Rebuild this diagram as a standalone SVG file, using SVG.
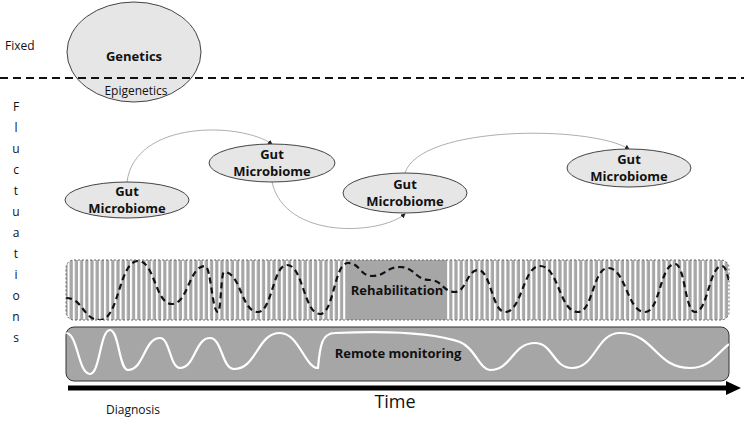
<svg xmlns="http://www.w3.org/2000/svg" width="744" height="424" viewBox="0 0 744 424">
<style>
text{font-family:"Open Sans","Liberation Sans",sans-serif;fill:#111}
.node{fill:#e6e6e6;stroke:#444;stroke-width:1}
.b{font-weight:bold;font-size:13px}
.conn{fill:none;stroke:#999;stroke-width:0.8}
.l{font-size:12px}
</style>
<defs>
<pattern id="st" width="5.2" height="10" patternUnits="userSpaceOnUse"><rect width="5.2" height="10" fill="#a6a6a6"/><rect x="0" width="2" height="10" fill="#fff"/></pattern>
<clipPath id="c1"><rect x="66" y="260" width="663" height="60" rx="8"/></clipPath>
<clipPath id="c2"><rect x="66" y="327" width="663" height="54" rx="8"/></clipPath>
<marker id="a" markerWidth="6" markerHeight="6" refX="5" refY="3" orient="auto"><path d="M0,0L6,3L0,6z" fill="#222"/></marker>
</defs>
<rect width="744" height="424" fill="#fff"/>
<text x="5" y="50" class="l">Fixed</text>
<g id="genetics"><ellipse cx="134" cy="52" rx="67" ry="50" class="node"/>
<text x="134" y="61" text-anchor="middle" class="b" font-size="14">Genetics</text>
<text x="136" y="95" text-anchor="middle" class="l">Epigenetics</text></g>
<line x1="0" y1="78" x2="744" y2="78" stroke="#111" stroke-width="2" stroke-dasharray="8,5"/>
<g class="l" text-anchor="middle">
<text x="16" y="111">F</text><text x="16" y="132">l</text><text x="16" y="153">u</text><text x="16" y="174">c</text><text x="16" y="195">t</text><text x="16" y="216">u</text><text x="16" y="237">a</text><text x="16" y="258">t</text><text x="16" y="279">i</text><text x="16" y="300">o</text><text x="16" y="321">n</text><text x="16" y="342">s</text>
</g>
<g id="connectors">
<path class="conn" d="M127,182C135,120 240,122 272,144" marker-end="url(#a)"/>
<path class="conn" d="M272,182C285,240 380,235 405,214" marker-end="url(#a)"/>
<path class="conn" d="M405,173C420,125 590,125 629,149" marker-end="url(#a)"/>
</g>
<g id="gm1"><ellipse cx="127" cy="200" rx="62" ry="18" class="node"/><text x="127" y="196" text-anchor="middle" class="b">Gut</text><text x="127" y="213" text-anchor="middle" class="b">Microbiome</text></g>
<g id="gm2"><ellipse cx="272" cy="163" rx="63" ry="19" class="node"/><text x="272" y="159" text-anchor="middle" class="b">Gut</text><text x="272" y="176" text-anchor="middle" class="b">Microbiome</text></g>
<g id="gm3"><ellipse cx="405" cy="193" rx="62" ry="20" class="node"/><text x="405" y="189" text-anchor="middle" class="b">Gut</text><text x="405" y="206" text-anchor="middle" class="b">Microbiome</text></g>
<g id="gm4"><ellipse cx="629" cy="168" rx="62" ry="19" class="node"/><text x="629" y="164" text-anchor="middle" class="b">Gut</text><text x="629" y="181" text-anchor="middle" class="b">Microbiome</text></g>
<g id="rehab">
<g clip-path="url(#c1)">
<rect x="66" y="260" width="663" height="60" fill="url(#st)"/>
<rect x="348" y="260" width="98" height="60" fill="#a6a6a6"/>
<path d="M66,298C83,298 83,320 100,320C119,320 119,261 138,261C155,261 155,304 172,304C188,304 189,266 205,266C211,266 212,312 218,312C221,312 221,272 224,272C241,272 241,312 258,312C272,312 273,265 287,265C303,265 304,314 320,314C334,314 334,263 348,263C360,263 360,276 372,276C386,276 386,267 400,267C415,267 415,280 430,280C442,280 443,292 455,292C466,292 467,270 478,270C491,270 492,312 505,312C522,312 523,266 540,266C559,266 559,312 578,312C593,312 593,268 608,268C626,268 627,312 645,312C660,312 660,264 675,264C685,264 685,312 695,312C708,312 709,266 722,266C726,266 727,275 729,280" fill="none" stroke="#111" stroke-width="2.2" stroke-dasharray="6,4"/>
</g>
<rect x="66" y="260" width="663" height="60" rx="8" fill="none" stroke="#666" stroke-dasharray="2,2"/>
<text x="397" y="295" text-anchor="middle" class="b" font-size="14">Rehabilitation</text>
</g>
<g id="remote">
<rect x="66" y="327" width="663" height="54" rx="8" fill="#a6a6a6" stroke="#333"/>
<g clip-path="url(#c2)">
<path d="M66,333C78,333 78,374 90,374C100,374 100,330 110,330C119,330 119,370 128,370C144,370 144,338 160,338C170,338 170,368 180,368C195,368 195,338 210,338C222,338 222,369 234,369C257,369 257,333 280,333C299,333 305,368 318,368C320,345 322,333 335,333C400,330 440,335 460,342C475,348 480,370 490,370C512,370 512,343 535,343C553,343 553,368 572,368C596,368 596,333 620,333C655,333 655,368 690,368C710,368 715,355 729,344" fill="none" stroke="#fff" stroke-width="2.2"/>
</g>
<text x="398" y="358" text-anchor="middle" class="b">Remote monitoring</text>
</g>
<line x1="68" y1="388" x2="728" y2="388" stroke="#000" stroke-width="5"/>
<path d="M726,381L741,388L726,395z" fill="#000"/>
<text x="395" y="408" text-anchor="middle" font-size="18">Time</text>
<text x="106" y="414" class="l">Diagnosis</text>
</svg>
